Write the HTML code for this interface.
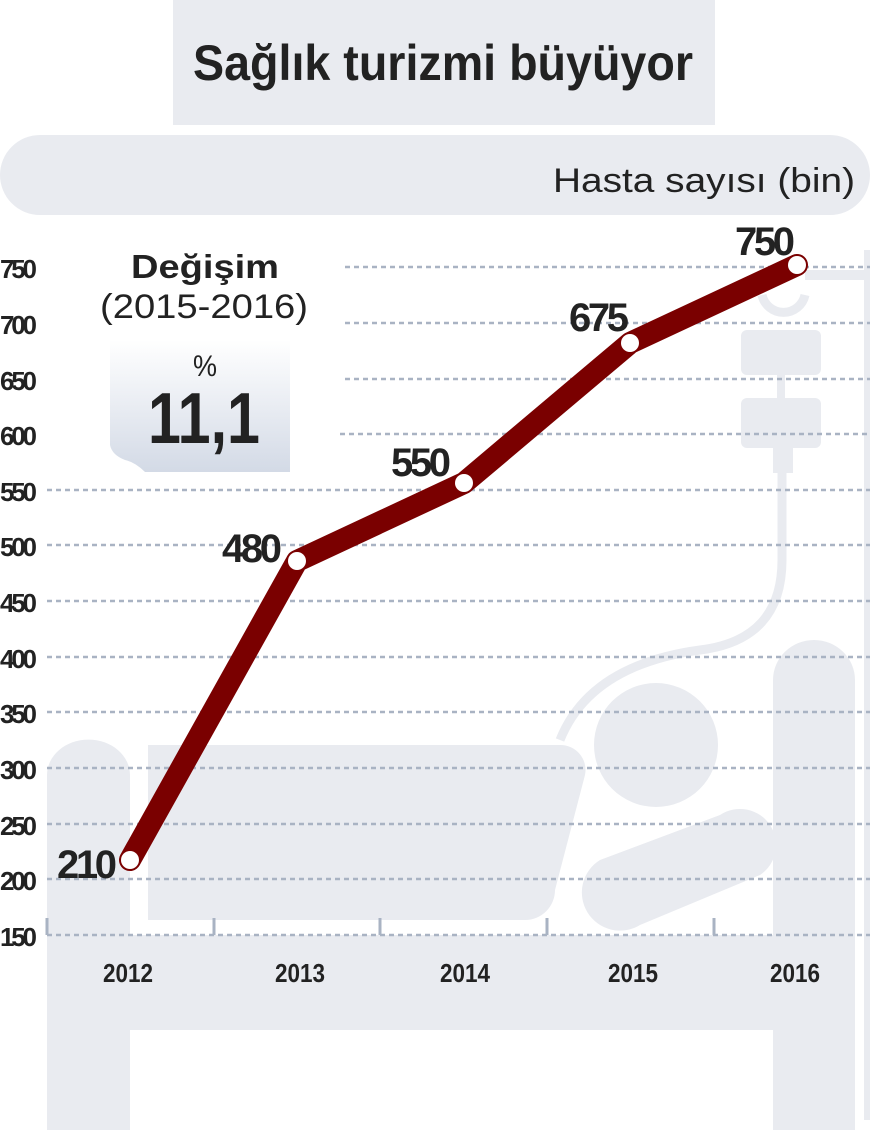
<!DOCTYPE html>
<html><head><meta charset="utf-8"><style>
html,body{margin:0;padding:0;background:#fff;}
svg{display:block;}
text{font-family:"Liberation Sans",sans-serif;}
</style></head><body>
<svg width="870" height="1130" viewBox="0 0 870 1130" xmlns="http://www.w3.org/2000/svg">
<defs>
<linearGradient id="g" x1="0" y1="0" x2="0" y2="1"><stop offset="0" stop-color="#ffffff"/><stop offset="1" stop-color="#d3dae6"/></linearGradient>
</defs>
<!-- title -->
<rect x="173" y="0" width="542" height="125" fill="#e9ebf0"/>
<text x="193" y="80" font-size="50" font-weight="bold" fill="#222" textLength="500" lengthAdjust="spacingAndGlyphs">Sağlık turizmi büyüyor</text>
<!-- pill -->
<path d="M40 135 H830 A40 40 0 0 1 870 175 A40 40 0 0 1 830 215 H40 A40 40 0 0 1 0 175 A40 40 0 0 1 40 135 Z" fill="#e9ebf0"/>
<text x="553" y="192" font-size="34" fill="#222" textLength="302" lengthAdjust="spacingAndGlyphs">Hasta sayısı (bin)</text>
<!-- bed -->
<g fill="#e9ebf0">
<path d="M47 775 A41 35 0 0 1 130 775 V1130 H47 Z"/>
<path d="M773 680 A41 40 0 0 1 855 680 V1130 H773 Z"/>
<rect x="47" y="935" width="808" height="95"/>
<rect x="148" y="745" width="370" height="175"/>
<path d="M518 745 H560 A25 25 0 0 1 585 775 L555 890 A30 30 0 0 1 525 920 H360 A30 30 0 0 1 330 890 V860 A25 25 0 0 1 355 835 H495 Z"/>
<circle cx="656" cy="745" r="62"/>
<path d="M600 860 L720 815 A35 35 0 0 1 760 875 L640 925 A35 35 0 0 1 600 860 Z"/>
<rect x="741" y="330" width="80" height="45" rx="6"/>
<rect x="741" y="398" width="80" height="50" rx="6"/>
<rect x="773" y="445" width="20" height="28"/>
<rect x="777" y="370" width="8" height="30"/>
<rect x="864" y="250" width="6" height="870"/>
<rect x="805" y="270" width="62" height="10"/>
</g>
<path d="M782 473 V560 Q782 640 700 650 Q590 665 560 740" fill="none" stroke="#e9ebf0" stroke-width="9"/>
<path d="M762 295 A22 22 0 0 0 805 295" fill="none" stroke="#e9ebf0" stroke-width="9"/>
<!-- grid -->
<g stroke="#a9b3c3" stroke-width="2.5" stroke-dasharray="5 4">
<line x1="345" y1="267" x2="870" y2="267"/>
<line x1="345" y1="323" x2="870" y2="323"/>
<line x1="345" y1="379" x2="870" y2="379"/>
<line x1="340" y1="434" x2="870" y2="434"/>
<line x1="47" y1="490" x2="870" y2="490"/>
<line x1="47" y1="545" x2="870" y2="545"/>
<line x1="47" y1="601" x2="870" y2="601"/>
<line x1="47" y1="657" x2="870" y2="657"/>
<line x1="47" y1="712" x2="870" y2="712"/>
<line x1="47" y1="768" x2="870" y2="768"/>
<line x1="47" y1="824" x2="870" y2="824"/>
<line x1="47" y1="879" x2="870" y2="879"/>
<line x1="47" y1="935" x2="870" y2="935"/>
</g>
<g stroke="#a9b3c3" stroke-width="3">
<line x1="47" y1="918" x2="47" y2="935"/><line x1="214" y1="918" x2="214" y2="935"/><line x1="380" y1="918" x2="380" y2="935"/><line x1="547" y1="918" x2="547" y2="935"/><line x1="714" y1="918" x2="714" y2="935"/>
</g>
<!-- y labels -->
<g font-size="26" fill="#222" font-weight="bold" lengthAdjust="spacingAndGlyphs">
<text x="0" y="278" textLength="37">750</text><text x="0" y="334" textLength="37">700</text><text x="0" y="390" textLength="37">650</text><text x="0" y="445" textLength="37">600</text><text x="0" y="501" textLength="37">550</text><text x="0" y="556" textLength="37">500</text><text x="0" y="612" textLength="37">450</text><text x="0" y="668" textLength="37">400</text><text x="0" y="723" textLength="37">350</text><text x="0" y="779" textLength="37">300</text><text x="0" y="835" textLength="37">250</text><text x="0" y="890" textLength="37">200</text><text x="0" y="946" textLength="37">150</text>
</g>
<!-- x labels -->
<g font-size="26" fill="#222" font-weight="bold">
<text x="103" y="982" textLength="50" lengthAdjust="spacingAndGlyphs">2012</text>
<text x="275" y="982" textLength="50" lengthAdjust="spacingAndGlyphs">2013</text>
<text x="440" y="982" textLength="50" lengthAdjust="spacingAndGlyphs">2014</text>
<text x="608" y="982" textLength="50" lengthAdjust="spacingAndGlyphs">2015</text>
<text x="770" y="982" textLength="50" lengthAdjust="spacingAndGlyphs">2016</text>
</g>
<!-- change box -->
<path d="M110 340 H290 V472 H145 Q135 462 125 460 Q112 455 110 445 Z" fill="url(#g)"/>
<text x="131" y="278" font-size="33" font-weight="bold" fill="#222" textLength="148" lengthAdjust="spacingAndGlyphs">Değişim</text>
<text x="100" y="318" font-size="34" fill="#222" textLength="208" lengthAdjust="spacingAndGlyphs">(2015-2016)</text>
<text x="193" y="376" font-size="30" fill="#222" textLength="24" lengthAdjust="spacingAndGlyphs">%</text>
<text x="148" y="443" font-size="72" font-weight="bold" fill="#222" textLength="112" lengthAdjust="spacingAndGlyphs">11,1</text>
<!-- series -->
<polyline points="130,860 297,561 464,483 630,343 797,265" fill="none" stroke="#7a0000" stroke-width="22" stroke-linejoin="round" stroke-linecap="round"/>
<g fill="#fff"><circle cx="130" cy="860" r="9"/><circle cx="297" cy="561" r="9"/><circle cx="464" cy="483" r="9"/><circle cx="630" cy="343" r="9"/><circle cx="797" cy="265" r="9"/></g>
<g font-size="40" font-weight="bold" fill="#222" lengthAdjust="spacingAndGlyphs">
<text x="57" y="878" textLength="60">210</text>
<text x="222" y="562" textLength="60">480</text>
<text x="391" y="476" textLength="60">550</text>
<text x="569" y="331" textLength="60">675</text>
<text x="735" y="255" textLength="60">750</text>
</g>
</svg>
</body></html>
